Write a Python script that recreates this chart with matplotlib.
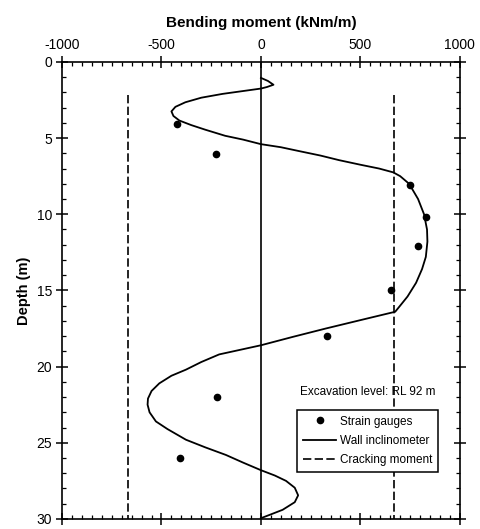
import matplotlib
matplotlib.use("Agg")
import matplotlib.pyplot as plt
from matplotlib.ticker import MultipleLocator

plt.rcParams['font.family'] = ['Liberation Sans', 'DejaVu Sans']
plt.rcParams['axes.unicode_minus'] = False

# Strain gauge readings (moment in kNm/m, depth in m)
gauge_moment = [-422, -225, 750, 830, 788, 655, 330, -223, -405]
gauge_depth = [4.05, 6.05, 8.1, 10.15, 12.1, 15.0, 18.0, 22.0, 26.0]

# Moment profile derived from the wall inclinometer
incl_moment = [0, 35, 63, 30, 0, -193, -300, -380, -430, -450, -440, -410, -350,
               -280, -180, -90, 0, 100, 190, 300, 393, 500, 594, 665, 700, 745,
               790, 820, 835, 837, 829, 810, 780, 737, 700, 675, 500, 326, 160, 0,
               -210, -300, -377, -450, -511, -550, -568, -570, -560, -528, -470,
               -377, -280, -176, -90, 0, 70, 126, 170, 187, 170, 109, 50, 0]
incl_depth = [1.05, 1.25, 1.5, 1.65, 1.75, 2.1, 2.35, 2.65, 2.95, 3.25, 3.55, 3.85,
              4.15, 4.45, 4.85, 5.1, 5.4, 5.6, 5.85, 6.15, 6.45, 6.75, 7.0, 7.25,
              7.5, 8.0, 9.0, 10.0, 11.0, 11.8, 12.8, 13.6, 14.5, 15.4, 16.0, 16.4,
              16.95, 17.5, 18.05, 18.6, 19.2, 19.7, 20.2, 20.6, 21.1, 21.6, 22.1,
              22.5, 23.0, 23.6, 24.1, 24.8, 25.3, 25.8, 26.3, 26.8, 27.15, 27.5,
              27.95, 28.45, 28.9, 29.4, 29.7, 29.95]

# Cracking moment limits
crack_moment = [-670, 670]
crack_top, crack_bottom = 2.2, 30

fig = plt.figure(figsize=(4.81, 5.29), dpi=100)
ax = fig.add_axes([0.129, 0.019, 0.827, 0.864])

ax.plot(gauge_moment, gauge_depth, 'o', color='black', markersize=4.5,
        label='Strain gauges', zorder=4)
ax.plot(incl_moment, incl_depth, '-', color='black', linewidth=1.3,
        label='Wall inclinometer', zorder=3)
for i, m in enumerate(crack_moment):
    ax.plot([m, m], [crack_top, crack_bottom], color='black', linewidth=1.2,
            dashes=(5, 2), label='Cracking moment' if i == 0 else None)
ax.axvline(0, color='black', linewidth=1.2, zorder=2)

ax.set_xlim(-1000, 1000)
ax.set_ylim(30, 0)
ax.xaxis.set_ticks_position('both')
ax.xaxis.set_label_position('top')
ax.tick_params(axis='x', labeltop=True, labelbottom=False)
ax.xaxis.set_major_locator(MultipleLocator(500))
ax.xaxis.set_minor_locator(MultipleLocator(50))
ax.yaxis.set_major_locator(MultipleLocator(5))
ax.yaxis.set_minor_locator(MultipleLocator(1))
ax.yaxis.set_ticks_position('both')
ax.tick_params(which='major', direction='inout', length=8, width=1.1,
               labelsize=10, pad=3)
ax.tick_params(which='minor', direction='in', length=3, width=0.9)
ax.tick_params(axis='y', which='both', labelright=False)
for s in ax.spines.values():
    s.set_linewidth(1.2)

ax.set_xlabel('Bending moment (kNm/m)', fontsize=11, fontweight='bold', labelpad=8)
ax.set_ylabel('Depth (m)', fontsize=10.5, fontweight='bold', labelpad=4)

ax.text(0.769, 0.278, 'Excavation level: RL 92 m', transform=ax.transAxes,
        ha='center', va='center', fontsize=8.5)
leg = ax.legend(loc='upper left', bbox_to_anchor=(0.577, 0.252), fontsize=8.5,
                frameon=True, fancybox=False, edgecolor='black', framealpha=1,
                handlelength=2.8, borderpad=0.5, labelspacing=0.6,
                handletextpad=0.3)
leg.get_frame().set_linewidth(1.1)

fig.savefig('out.png', dpi=100)
